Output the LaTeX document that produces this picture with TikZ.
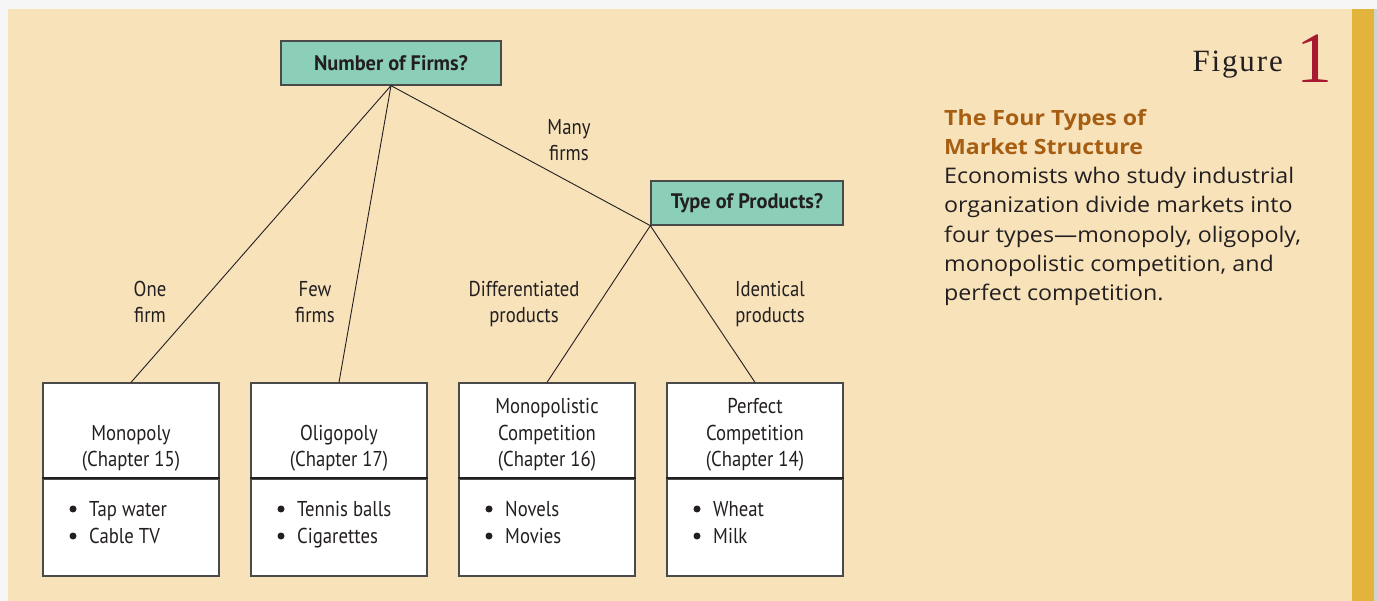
\documentclass[tikz,border=0pt]{standalone}
\usepackage{fontspec}
\setmainfont{Liberation Serif}
\newfontfamily\condfont[FakeStretch=0.87]{PT Sans}
\newfontfamily\condboldfont[FakeStretch=0.97]{PT Sans Bold}
\newfontfamily\bodyfont[FakeStretch=1.08]{Open Sans}
\newfontfamily\bodyboldfont[FakeStretch=1.1]{Open Sans Bold}
\definecolor{bgpage}{HTML}{F6F6F6}
\definecolor{beige}{HTML}{F7E2BA}
\definecolor{gold}{HTML}{E3B43B}
\definecolor{edgegray}{HTML}{D2D2D2}
\definecolor{tealq}{HTML}{8BCFB8}
\definecolor{txt}{HTML}{231F20}
\definecolor{boxline}{HTML}{4A4A4A}
\definecolor{headorange}{HTML}{A65E12}
\definecolor{figred}{HTML}{A6192E}
\tikzset{
  lbl/.style={font=\condfont\fontsize{21.5}{26.5}\selectfont, text=txt, align=center, inner sep=0pt, anchor=base},
  qbox/.style={draw=boxline, line width=1.3pt, fill=tealq, text=txt, inner sep=0pt,
    font=\condboldfont\fontsize{21}{23}\selectfont, minimum height=44},
  tbox/.style={draw=boxline, line width=1.2pt, fill=white, inner sep=0pt, minimum width=176, minimum height=96},
  ebox/.style={tbox, minimum height=97},
  conn/.style={draw=txt, line width=0.9pt},
  divider/.style={draw=txt, line width=2pt},
  item/.style={font=\condfont\fontsize{21.5}{26}\selectfont, text=txt, anchor=base west, inner sep=0pt},
  dot/.style={circle, fill=txt, inner sep=0pt, minimum size=7},
}
\begin{document}
\begin{tikzpicture}[x=1pt,y=-1pt]
\useasboundingbox (0,0) rectangle (1377,601);
\fill[bgpage] (0,0) rectangle (1377,601);
\fill[beige] (7.5,9) rectangle (1352,601);
\fill[gold] (1352,9) rectangle (1374,601);
\fill[edgegray] (1374,9) rectangle (1377,601);

% question boxes
\node[qbox, minimum width=220] (nf) at (391,63) {Number of Firms?};
\node[qbox, minimum width=192] (tp) at (747,203) {Type of Products?};

% market boxes
\foreach \n/\x in {1/131,2/339,3/547,4/755}{
  \node[tbox] (m\n) at (\x,431) {};
  \node[ebox] (e\n) at (\x,527.5) {};
  \draw[divider] (e\n.north west) -- (e\n.north east);
}

% connectors
\draw[conn] (nf.south) -- (m1.north);
\draw[conn] (nf.south) -- (m2.north);
\draw[conn] (nf.south) -- (tp.south west);
\draw[conn] (tp.south west) -- (m3.north);
\draw[conn] (tp.south west) -- (m4.north);

% branch labels
\node[lbl] (l1) at (150,323) {One\\firm};
\node[lbl] (l2) at (315,323) {Few\\firms};
\node[lbl] (l3) at (569,161) {Many\\firms};
\node[lbl] (l4) at (524,323) {Differentiated\\products};
\node[lbl] (l5) at (770,323) {Identical\\products};

% box titles
\node[lbl] (t1) at (131,467) {Monopoly\\(Chapter 15)};
\node[lbl] (t2) at (339,467) {Oligopoly\\(Chapter 17)};
\node[lbl] (t3) at (547,467) {Monopolistic\\Competition\\(Chapter 16)};
\node[lbl] (t4) at (755,467) {Perfect\\Competition\\(Chapter 14)};

% examples
\foreach \n/\x/\a/\b in {1/43/Tap water/Cable TV, 2/251/Tennis balls/Cigarettes, 3/459/Novels/Movies, 4/667/Wheat/Milk}{
  \node[dot] (d\n a) at (\x+30,509) {};
  \node[dot] (d\n b) at (\x+30,536) {};
  \node[item] (i\n a) at (\x+46,516.5) {\a};
  \node[item] (i\n b) at (\x+46,543.5) {\b};
}

% figure label
\node[anchor=base east, inner sep=0pt, text=txt, font=\addfontfeature{LetterSpace=6}\fontsize{31}{31}\selectfont] (fig) at (1283,72) {Figure};
\node[anchor=base west, inner sep=0pt, text=figred, font=\fontsize{72}{72}\selectfont] (fignum) at (1296,83) {1};

% caption
\node[anchor=base west, align=left, inner sep=0pt, text=headorange, font=\bodyboldfont\fontsize{21}{29.4}\selectfont] (cap) at (944,154.5) {The Four Types of\\Market Structure};
\node[anchor=base west, align=left, inner sep=0pt, text=txt, font=\bodyfont\fontsize{21.5}{29.4}\selectfont] (body) at (944,301) {Economists who study industrial\\organization divide markets into\\four types—monopoly, oligopoly,\\monopolistic competition, and\\perfect competition.};
\end{tikzpicture}
\end{document}
